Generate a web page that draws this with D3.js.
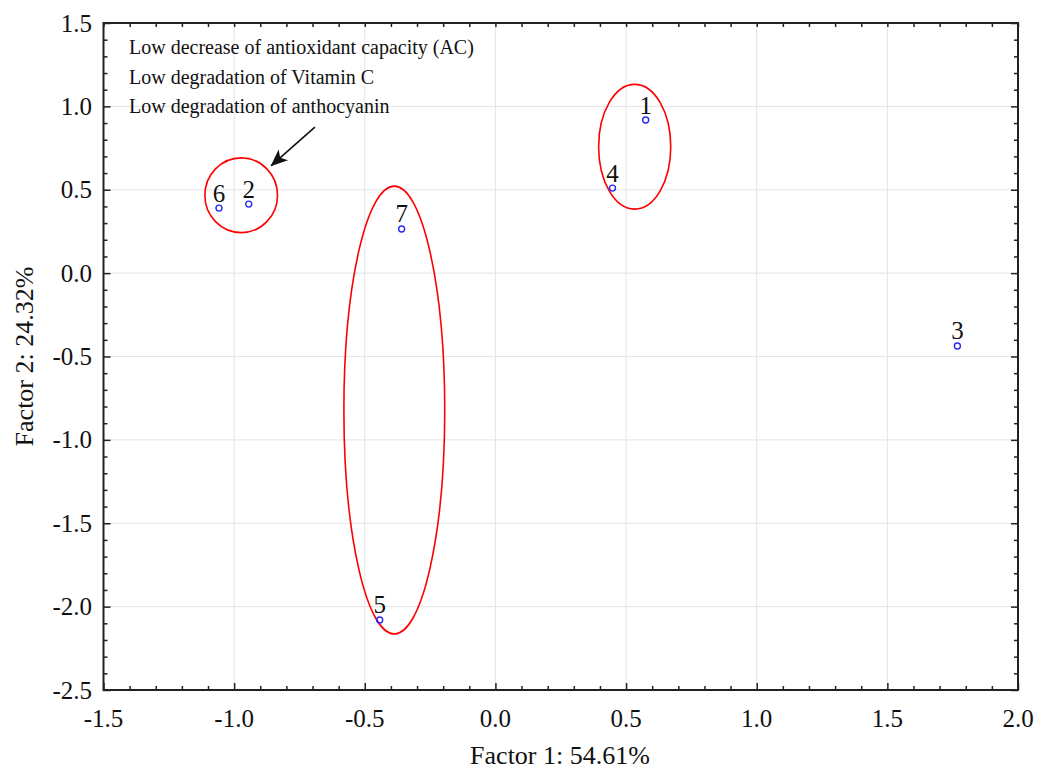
<!DOCTYPE html>
<html><head><meta charset="utf-8">
<script src="https://cdn.jsdelivr.net/npm/d3@7"></script>
<style>body{margin:0;background:#fff;} text{font-family:"Liberation Serif","Times New Roman",serif;}</style>
</head><body>
<svg id="chart" width="1037" height="771"></svg>
<script>
const sampleLabels = ["1","2","3","4","5","6","7"];
const factor1 = [0.575, -0.944, 1.768, 0.448, -0.443, -1.058, -0.359];
const factor2 = [0.918, 0.414, -0.437, 0.510, -2.080, 0.390, 0.265];
const xTicks = [-1.5,-1.0,-0.5,0.0,0.5,1.0,1.5,2.0];
const yTicks = [1.5,1.0,0.5,0.0,-0.5,-1.0,-1.5,-2.0,-2.5];
// ellipses: center x, center y, radius x, radius y (data units)
const ellipseCx = [-0.973, 0.533, -0.387];
const ellipseCy = [0.467, 0.758, -0.821];
const ellipseRx = [0.139, 0.138, 0.193];
const ellipseRy = [0.224, 0.374, 1.343];
const noteLines = ["Low decrease of antioxidant capacity (AC)","Low degradation of Vitamin C","Low degradation of anthocyanin"];
const arrowFrom = [-0.691, 0.876];
const arrowTo = [-0.858, 0.645];

const svg = d3.select("#chart");
const L=103.5, R=1018, T=23, B=690;
const x = d3.scaleLinear().domain([-1.5,2.0]).range([L,R]);
const y = d3.scaleLinear().domain([-2.5,1.5]).range([B,T]);
const fmt = d => d3.format(".1f")(d).replace("\u2212","-");

// grid
svg.append("g").selectAll("line").data(xTicks).join("line")
  .attr("x1",d=>x(d)).attr("x2",d=>x(d)).attr("y1",T).attr("y2",B)
  .attr("stroke","#e4e4e4").attr("stroke-width",1);
svg.append("g").selectAll("line").data(yTicks).join("line")
  .attr("y1",d=>y(d)).attr("y2",d=>y(d)).attr("x1",L).attr("x2",R)
  .attr("stroke","#e4e4e4").attr("stroke-width",1);

// axes with inward ticks
const xMinor = d3.range(-15,21).map(v=>v/10);
const yMinor = d3.range(-25,16).map(v=>v/10);
function isMajor(v){return Math.abs(v*2-Math.round(v*2))<1e-6;}
const axB = d3.axisBottom(x).tickValues(xMinor).tickSize(-4).tickFormat("");
const axL = d3.axisLeft(y).tickValues(yMinor).tickSize(-4).tickFormat("");
const axT = d3.axisTop(x).tickValues(xMinor).tickSize(-4).tickFormat("");
const axR = d3.axisRight(y).tickValues(yMinor).tickSize(-4).tickFormat("");
function style(g){
  g.select(".domain").remove();
  g.selectAll(".tick line").attr("stroke","#222").attr("stroke-width",1.5);
  g.selectAll(".tick text").remove();
}
svg.append("g").attr("transform",`translate(0,${B})`).call(axB).call(style)
  .selectAll(".tick").filter(d=>isMajor(d)).select("line").attr("y2",-7);
svg.append("g").attr("transform",`translate(${L},0)`).call(axL).call(style)
  .selectAll(".tick").filter(d=>isMajor(d)).select("line").attr("x2",7);
svg.append("g").attr("transform",`translate(0,${T})`).call(axT).call(style);
svg.append("g").attr("transform",`translate(${R},0)`).call(axR).call(style)
  .selectAll(".tick").filter(d=>isMajor(d)).select("line").attr("x2",-7);

// tick labels
svg.append("g").selectAll("text").data(xTicks).join("text")
  .attr("x",d=>x(d)).attr("y",727).attr("text-anchor","middle")
  .attr("font-size",25).attr("fill","#111").text(fmt);
svg.append("g").selectAll("text").data(yTicks).join("text")
  .attr("x",92).attr("y",d=>y(d)+8.5).attr("text-anchor","end")
  .attr("font-size",25).attr("fill","#111").text(fmt);

svg.append("rect").attr("x",L).attr("y",T).attr("width",R-L).attr("height",B-T)
  .attr("fill","none").attr("stroke","#222").attr("stroke-width",2);

// axis titles
svg.append("text").attr("x",560).attr("y",764).attr("text-anchor","middle")
  .attr("font-size",26).attr("fill","#111").text("Factor 1: 54.61%");
svg.append("text").attr("transform",`translate(33,${(T+B)/2}) rotate(-90)`).attr("text-anchor","middle")
  .attr("font-size",26).attr("fill","#111").text("Factor 2: 24.32%");

// ellipses
svg.append("g").selectAll("ellipse").data(ellipseCx).join("ellipse")
  .attr("cx",(d,i)=>x(ellipseCx[i])).attr("cy",(d,i)=>y(ellipseCy[i]))
  .attr("rx",(d,i)=>x(ellipseRx[i])-x(0)).attr("ry",(d,i)=>y(0)-y(ellipseRy[i]))
  .attr("fill","none").attr("stroke","#ff0000").attr("stroke-width",1.6);

// points
const pts = sampleLabels.map((s,i)=>({s, fx:factor1[i], fy:factor2[i]}));
svg.append("g").selectAll("circle").data(pts).join("circle")
  .attr("cx",d=>x(d.fx)).attr("cy",d=>y(d.fy)).attr("r",3)
  .attr("fill","none").attr("stroke","#2a2aee").attr("stroke-width",1.4);
svg.append("g").selectAll("text").data(pts).join("text")
  .attr("x",d=>x(d.fx)).attr("y",d=>y(d.fy)-6.5).attr("text-anchor","middle")
  .attr("font-size",25).attr("fill","#111").text(d=>d.s);

// note text
svg.append("g").selectAll("text").data(noteLines).join("text")
  .attr("x",129).attr("y",(d,i)=>54+i*29.5).attr("font-size",20).attr("fill","#111").text(d=>d);

// arrow
svg.append("defs").append("marker").attr("id","ah").attr("viewBox","0 0 10 10")
  .attr("refX",9.5).attr("refY",5).attr("markerWidth",17).attr("markerHeight",17)
  .attr("markerUnits","userSpaceOnUse").attr("orient","auto")
  .append("path").attr("d","M0,0.8 L10,5 L0,9.2 L2.5,5 Z").attr("fill","#111");
svg.append("line").attr("x1",x(arrowFrom[0])).attr("y1",y(arrowFrom[1]))
  .attr("x2",x(arrowTo[0])).attr("y2",y(arrowTo[1]))
  .attr("stroke","#111").attr("stroke-width",1.6).attr("marker-end","url(#ah)");
</script>
</body></html>
